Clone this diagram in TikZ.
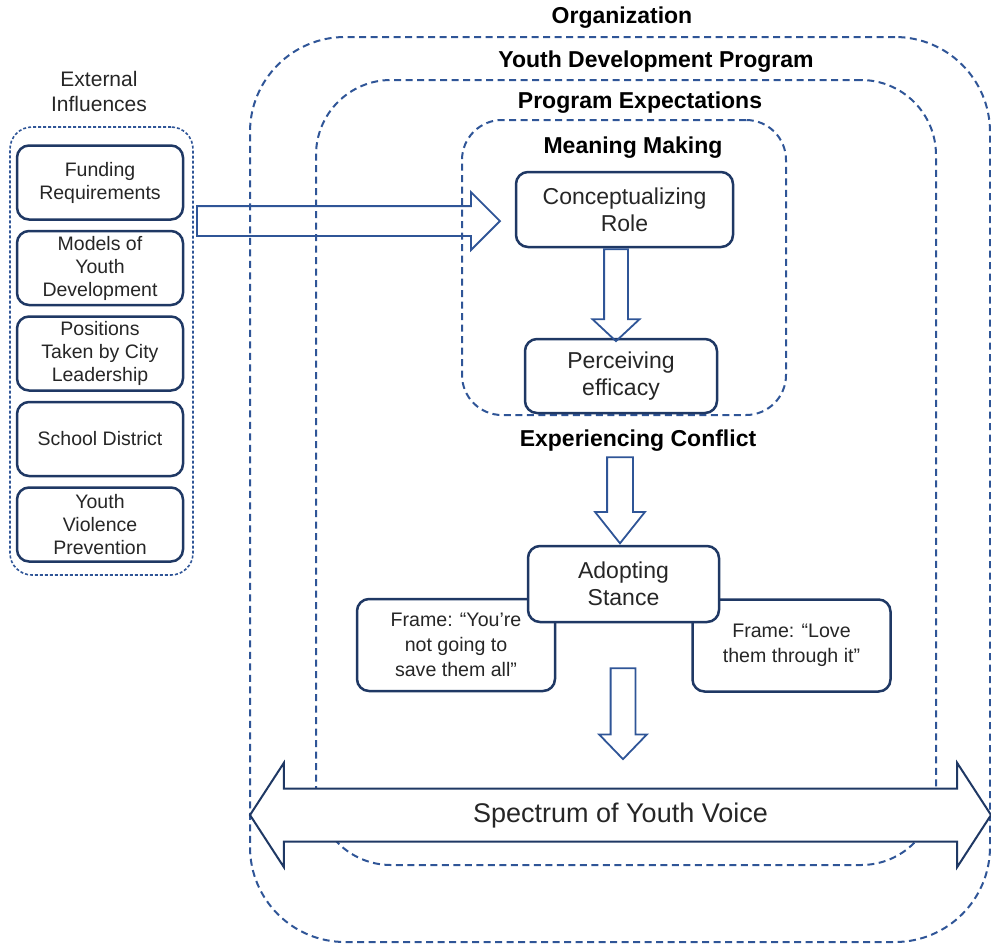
\documentclass[tikz,border=0pt]{standalone}
\usepackage{fontspec}
\setmainfont{Liberation Sans}
\usetikzlibrary{positioning,shapes.arrows}
\definecolor{dashblue}{HTML}{2F5597}
\definecolor{navy}{HTML}{1F3864}
\definecolor{ink}{HTML}{262626}

\tikzset{
  region/.style={draw=dashblue, line width=2pt, dash pattern=on 7pt off 4.5pt},
  title/.style={font=\fontsize{23}{26}\selectfont\bfseries, text=black},
  box/.style={draw=navy, line width=2.5pt, rounded corners=12, fill=white,
    align=center, text=ink, inner sep=2pt},
  extbox/.style={box, minimum width=166, minimum height=74,
    font=\fontsize{19.5}{23}\selectfont},
  stepbox/.style={box, font=\fontsize{23}{27}\selectfont},
  framebox/.style={box, minimum width=198, minimum height=92,
    font=\fontsize{19.6}{25}\selectfont},
  hollow/.style={single arrow, draw=dashblue, line width=1.8pt, inner xsep=0pt,
    minimum width=0pt},
}

\begin{document}
\begin{tikzpicture}[x=1pt,y=-1pt,node distance=85.5pt,on grid]
  \useasboundingbox (0,0) rectangle (991,946);

  % nested settings
  \node[region, rounded corners=95, minimum width=740, minimum height=905] (org) at (620,489.5) {};
  \node[region, rounded corners=75, minimum width=620, minimum height=785] (ydp) at (626,472.5) {};
  \node[region, rounded corners=40, minimum width=324, minimum height=295] (meaning) at (624,267.5) {};
  \node[title] (orglabel) at (622,17.5) {Organization};
  \node[title] (ydplabel) at (656,61.5) {Youth Development Program};
  \node[title] (expect) at (640,102.5) {Program Expectations};
  \node[title] (meaninglabel) at (633,147.5) {Meaning Making};
  \node[title] (conflict) at (638,440.5) {Experiencing Conflict};

  % external influences
  \node[align=center, text=ink, font=\fontsize{21}{25}\selectfont] (extlabel) at (99,91.5) {External\\Influences};
  \node[draw=dashblue, line width=1.6pt, dash pattern=on 3pt off 2pt, rounded corners=22,
    minimum width=183, minimum height=448] (external) at (101.5,351) {};
  \node[extbox] (fund) at (100,182.5) {Funding\\Requirements};
  \node[extbox] (models) [below = of fund] {Models of\\Youth\\Development};
  \node[extbox] (city) [below = of models] {Positions\\Taken by City\\Leadership};
  \node[extbox] (school) [below = of city] {School District};
  \node[extbox] (violence) [below = of school] {Youth\\Violence\\Prevention};

  % process
  \node[stepbox, minimum width=217, minimum height=75] (concept) at (624.5,209.5) {Conceptualizing\\Role};
  \node[stepbox, minimum width=192, minimum height=74] (perceive) at (621,376) {Perceiving\\efficacy};
  \node[framebox] (saveall) at (456,645) {Frame: “You’re\\not going to\\save them all”};
  \node[framebox] (loveit) at (791.5,645.5) {Frame: “Love\\them through it”};
  \node[stepbox, minimum width=191, minimum height=76] (stance) at (623.5,584) {Adopting\\Stance};

  % block arrows
  \node[hollow, minimum height=303, inner ysep=14, single arrow head extend=14,
    single arrow tip angle=90, anchor=tip] (toconcept) at ([xshift=-13.5,yshift=-11.5]concept.west) {};
  \node[hollow, rotate=-90, minimum height=92, inner ysep=11, single arrow head extend=11.5,
    single arrow tip angle=94, anchor=tail] (toperceive) at ([xshift=-8.5]concept.south) {};
  \node[hollow, rotate=-90, minimum height=86, inner ysep=12, single arrow head extend=12,
    single arrow tip angle=77, anchor=tip] (tostance) at ([xshift=-3.5]stance.north) {};
  \node[hollow, rotate=-90, minimum height=91, inner ysep=11.5, single arrow head extend=11.5,
    single arrow tip angle=88, anchor=tail] (tovoice) at ([xshift=-0.5,yshift=-44]stance.south) {};

  \node[double arrow, draw=navy, line width=2pt, fill=white, minimum height=741,
    inner xsep=0pt, inner ysep=13.5, text height=19, text depth=5, minimum width=0pt,
    double arrow head extend=25.5, double arrow tip angle=114, text=ink,
    font=\fontsize{27}{30}\selectfont] (voice) at (620.5,815) {Spectrum of Youth Voice};
\end{tikzpicture}
\end{document}
